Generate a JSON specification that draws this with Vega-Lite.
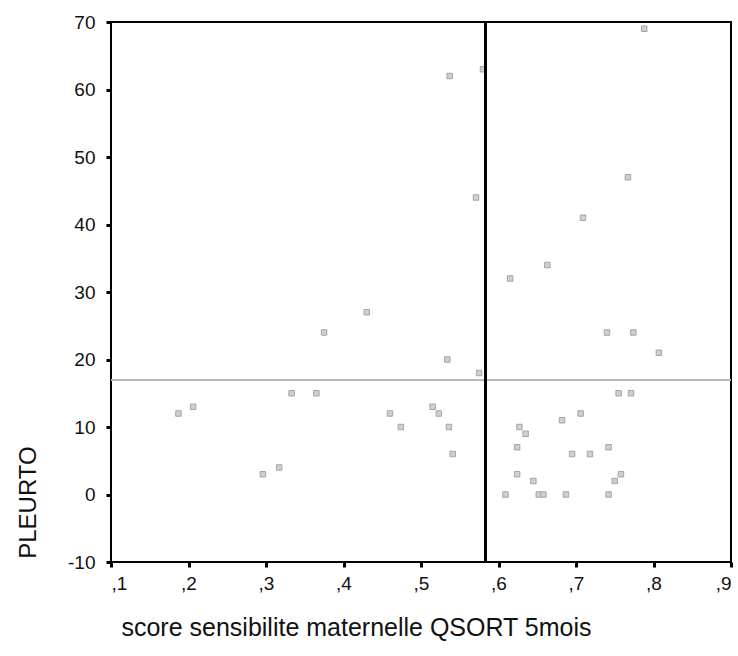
{
  "$schema": "https://vega.github.io/schema/vega-lite/v6.json",
  "width": 620,
  "height": 540,
  "autosize": {"type": "none"},
  "padding": {"left": 111, "top": 22, "right": 7, "bottom": 94},
  "background": "white",
  "data": {
    "values": [
      {"score": 0.187, "pleurto": 12}, {"score": 0.206, "pleurto": 13},
      {"score": 0.296, "pleurto": 3}, {"score": 0.317, "pleurto": 4},
      {"score": 0.333, "pleurto": 15}, {"score": 0.365, "pleurto": 15},
      {"score": 0.375, "pleurto": 24}, {"score": 0.430, "pleurto": 27},
      {"score": 0.460, "pleurto": 12}, {"score": 0.474, "pleurto": 10},
      {"score": 0.515, "pleurto": 13}, {"score": 0.523, "pleurto": 12},
      {"score": 0.534, "pleurto": 20}, {"score": 0.536, "pleurto": 10},
      {"score": 0.537, "pleurto": 62}, {"score": 0.541, "pleurto": 6},
      {"score": 0.571, "pleurto": 44}, {"score": 0.575, "pleurto": 18},
      {"score": 0.580, "pleurto": 63}, {"score": 0.609, "pleurto": 0},
      {"score": 0.615, "pleurto": 32}, {"score": 0.624, "pleurto": 7},
      {"score": 0.624, "pleurto": 3}, {"score": 0.627, "pleurto": 10},
      {"score": 0.635, "pleurto": 9}, {"score": 0.645, "pleurto": 2},
      {"score": 0.652, "pleurto": 0}, {"score": 0.658, "pleurto": 0},
      {"score": 0.663, "pleurto": 34}, {"score": 0.682, "pleurto": 11},
      {"score": 0.687, "pleurto": 0}, {"score": 0.695, "pleurto": 6},
      {"score": 0.706, "pleurto": 12}, {"score": 0.709, "pleurto": 41},
      {"score": 0.718, "pleurto": 6}, {"score": 0.740, "pleurto": 24},
      {"score": 0.742, "pleurto": 7}, {"score": 0.742, "pleurto": 0},
      {"score": 0.750, "pleurto": 2}, {"score": 0.755, "pleurto": 15},
      {"score": 0.758, "pleurto": 3}, {"score": 0.767, "pleurto": 47},
      {"score": 0.771, "pleurto": 15}, {"score": 0.774, "pleurto": 24},
      {"score": 0.788, "pleurto": 69}, {"score": 0.807, "pleurto": 21}
    ]
  },
  "config": {
    "view": {"stroke": "black", "strokeWidth": 2},
    "font": "Liberation Sans",
    "axis": {
      "grid": false,
      "domain": false,
      "tickColor": "black",
      "tickWidth": 3,
      "tickSize": 5,
      "labelColor": "#111111",
      "labelFont": "Liberation Sans",
      "titleFont": "Liberation Sans",
      "titleFontWeight": "normal",
      "titleColor": "#111111"
    }
  },
  "layer": [
    {
      "mark": {"type": "point", "shape": "square", "size": 30, "filled": true, "fill": "#cfcfcf", "stroke": "#a5a5a5", "strokeWidth": 1, "opacity": 1},
      "encoding": {
        "x": {
          "field": "score", "type": "quantitative",
          "scale": {"domain": [0.1, 0.9], "nice": false, "zero": false},
          "axis": {
            "values": [0.1, 0.2, 0.3, 0.4, 0.5, 0.6, 0.7, 0.8, 0.9],
            "labelExpr": "replace(format(datum.value, '.1f'), '0.', ',')",
            "labelPadding": 7,
            "labelFontSize": 19,
            "title": "score sensibilite maternelle QSORT 5mois",
            "titleFontSize": 25,
            "titleX": 245,
            "titleY": 73,
            "titleAlign": "center",
            "titleBaseline": "alphabetic"
          }
        },
        "y": {
          "field": "pleurto", "type": "quantitative",
          "scale": {"domain": [-10, 70], "nice": false, "zero": false},
          "axis": {
            "values": [-10, 0, 10, 20, 30, 40, 50, 60, 70],
            "labelExpr": "'' + datum.value",
            "labelPadding": 11,
            "labelFontSize": 19,
            "title": "PLEURTO",
            "titleFontSize": 24,
            "titleAngle": -90,
            "titleX": -83,
            "titleY": 480,
            "titleAlign": "center",
            "titleBaseline": "middle"
          }
        }
      }
    },
    {
      "mark": {"type": "rule", "color": "#b8b8b8", "strokeWidth": 1},
      "encoding": {"y": {"datum": 16.9}}
    },
    {
      "mark": {"type": "rule", "color": "black", "strokeWidth": 2},
      "encoding": {"x": {"datum": 0.583}}
    }
  ]
}
